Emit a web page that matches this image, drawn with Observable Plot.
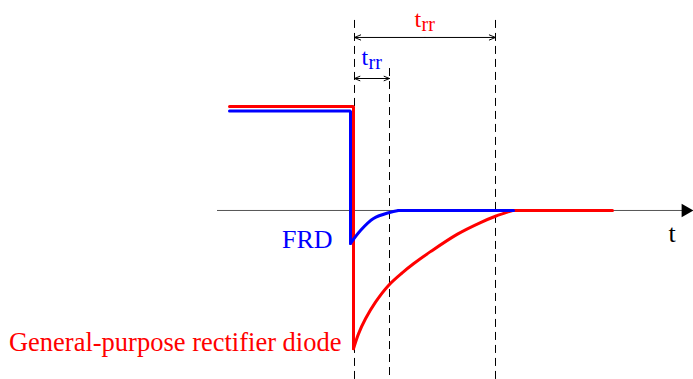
<!DOCTYPE html>
<html>
<head>
<meta charset="utf-8">
<script src="https://cdn.jsdelivr.net/npm/d3@7"></script>
<script src="https://cdn.jsdelivr.net/npm/@observablehq/plot@0.6"></script>
<style>
  html, body { margin: 0; padding: 0; background: #fff; }
  #chart svg { display: block; }
</style>
</head>
<body>
<div id="chart"></div>
<script>
// time in arbitrary units (0 = switching instant), current normalised to forward current
const redStepT = [-125, -1, -1];
const redStepI = [0.99, 0.99, -1.314];
const redDecayT = [-1, 4, 11, 21, 34, 48, 59, 76, 103, 126, 141, 158];
const redDecayI = [-1.317, -1.175, -1.032, -0.873, -0.714, -0.592, -0.508, -0.392, -0.225, -0.115, -0.055, 0];
const redTailT = [158, 258];
const redTailI = [0, 0];

const blueStepT = [-125, -4, -4];
const blueStepI = [0.948, 0.948, -0.314];
const blueDecayT = [-4, 6, 19, 35, 44];
const blueDecayI = [-0.314, -0.19, -0.076, -0.019, 0];
const blueTailT = [44, 159];
const blueTailI = [0, 0];

const trrFRD = 35;       // FRD reverse recovery time
const trrGeneral = 141;  // general-purpose diode reverse recovery time
const axisStart = -137, axisEnd = 331;

const labelFRD = "FRD";
const labelGeneral = "General-purpose rectifier diode";
const labelTime = "t";

const zip = (ts, is) => ts.map((t, k) => ({t, i: is[k]}));
const font = "Liberation Serif";

const spanArrows = (t, y) => [
  Plot.arrow([t], {x1: d => d / 2, x2: 0, y1: y, y2: y, stroke: "#000", strokeWidth: 1, headLength: 10, headAngle: 45}),
  Plot.arrow([t], {x1: d => d / 2, x2: d => d, y1: y, y2: y, stroke: "#000", strokeWidth: 1, headLength: 10, headAngle: 45})
];

const chart = Plot.plot({
  width: 693,
  height: 379,
  margin: 0,
  style: {background: "#fff", fontFamily: font},
  x: {domain: [-354, 339], axis: null},
  y: {domain: [-1.61, 2.0], axis: null},
  marks: [
    // time axis
    Plot.ruleY([0], {x1: axisStart, x2: axisEnd, stroke: "#555", strokeWidth: 1}),
    Plot.dot([axisEnd], {x: d => d, y: 0, symbol: "triangle", rotate: 90, r: 5, fill: "#000", stroke: "none"}),
    // dashed markers
    Plot.ruleX([0, trrGeneral], {y1: 1.81, y2: -1.61, stroke: "#000", strokeWidth: 1, strokeDasharray: "8,5"}),
    Plot.ruleX([trrFRD], {y1: 1.352, y2: -1.61, stroke: "#000", strokeWidth: 1, strokeDasharray: "8,5"}),
    // trr spans
    ...spanArrows(trrGeneral, 1.648),
    ...spanArrows(trrFRD, 1.257),
    // curves
    Plot.line(zip(redStepT, redStepI), {x: "t", y: "i", stroke: "#ff0000", strokeWidth: 3, strokeLinejoin: "miter"}),
    Plot.line(zip(redDecayT, redDecayI), {x: "t", y: "i", stroke: "#ff0000", strokeWidth: 3, curve: "catmull-rom"}),
    Plot.line(zip(redTailT, redTailI), {x: "t", y: "i", stroke: "#ff0000", strokeWidth: 3}),
    Plot.line(zip(blueStepT, blueStepI), {x: "t", y: "i", stroke: "#0000ff", strokeWidth: 3, strokeLinejoin: "miter"}),
    Plot.line(zip(blueDecayT, blueDecayI), {x: "t", y: "i", stroke: "#0000ff", strokeWidth: 3, curve: "catmull-rom"}),
    Plot.line(zip(blueTailT, blueTailI), {x: "t", y: "i", stroke: "#0000ff", strokeWidth: 3}),
    // trr labels
    Plot.text(["t"], {x: 60, y: 1.743, text: d => d, fill: "#ff0000", fontSize: 24, textAnchor: "start", lineAnchor: "bottom", fontFamily: font}),
    Plot.text(["rr"], {x: 67, y: 1.714, text: d => d, fill: "#ff0000", fontSize: 20, textAnchor: "start", lineAnchor: "bottom", fontFamily: font}),
    Plot.text(["t"], {x: 7, y: 1.381, text: d => d, fill: "#0000ff", fontSize: 24, textAnchor: "start", lineAnchor: "bottom", fontFamily: font}),
    Plot.text(["rr"], {x: 14, y: 1.352, text: d => d, fill: "#0000ff", fontSize: 20, textAnchor: "start", lineAnchor: "bottom", fontFamily: font}),
    // series labels
    Plot.text([labelFRD], {x: -22, y: -0.353, text: d => d, fill: "#0000ff", fontSize: 26, textAnchor: "end", lineAnchor: "bottom", fontFamily: font}),
    Plot.text([labelGeneral], {x: -13, y: -1.334, text: d => d, fill: "#ff0000", fontSize: 26.5, textAnchor: "end", lineAnchor: "bottom", fontFamily: font}),
    Plot.text([labelTime], {x: 314, y: -0.305, text: d => d, fill: "#000", fontSize: 26, textAnchor: "start", lineAnchor: "bottom", fontFamily: font})
  ]
});
document.getElementById("chart").appendChild(chart);
</script>
</body>
</html>
